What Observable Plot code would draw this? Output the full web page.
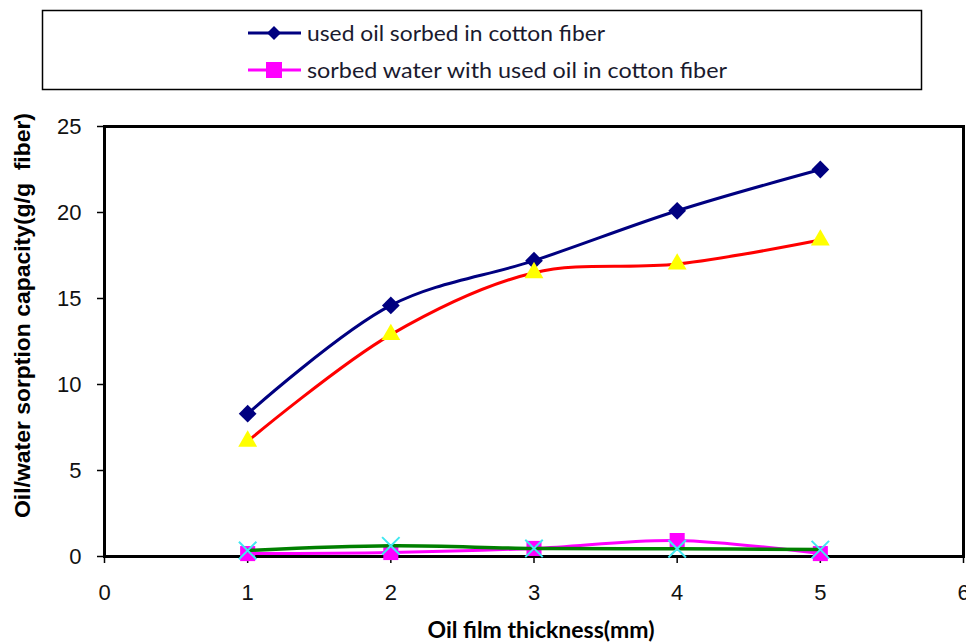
<!DOCTYPE html>
<html>
<head>
<meta charset="utf-8">
<script src="https://cdn.jsdelivr.net/npm/d3@7"></script>
<script src="https://cdn.jsdelivr.net/npm/@observablehq/plot@0.6"></script>
<style>
  body { margin: 0; background: #fff; }
  #wrap { position: relative; width: 966px; height: 643px; }
  #legend { position: absolute; left: 0; top: 0; }
  #chart { position: absolute; left: 0; top: 0; }
</style>
</head>
<body>
<div id="wrap">
  <div id="chart"></div>
  <div id="legend"></div>
</div>
<script>
const thickness = [1, 2, 3, 4, 5];
const usedOilSorbed = [8.3, 14.6, 17.2, 20.1, 22.5];
const sorbedWaterWithOil = [0.17, 0.23, 0.47, 0.93, 0.17];
const series3 = [6.7, 12.9, 16.5, 17.0, 18.4];
const series4 = [0.35, 0.62, 0.47, 0.45, 0.40];
const xTicks = [0, 1, 2, 3, 4, 5, 6];
const yTicks = [0, 5, 10, 15, 20, 25];
const legendLabels = ["used oil sorbed in cotton fiber", "sorbed water with used  oil in cotton fiber"];
const xTitle = "Oil film thickness(mm)";
const yTitle = "Oil/water sorption capacity(g/g  fiber)";

const rows = (ys) => thickness.map((x, i) => ({x, y: ys[i]}));
const s1 = rows(usedOilSorbed), s2 = rows(sorbedWaterWithOil), s3 = rows(series3), s4 = rows(series4);

const chart = Plot.plot({
  width: 966,
  height: 643,
  marginLeft: 104,
  marginRight: 3,
  marginTop: 126,
  marginBottom: 87,
  style: {fontFamily: "'Liberation Sans', Arial, sans-serif", background: "#fff", color: "#000", overflow: "visible"},
  x: {domain: [0, 6]},
  y: {domain: [0, 25]},
  marks: [
    Plot.axisY({ticks: yTicks, tickSize: 7, tickPadding: 16, fontSize: 22, strokeWidth: 1.5, label: null, tickFormat: d => d, fill: "#111"}),
    Plot.axisX({ticks: xTicks, tickSize: 7, tickPadding: 21, fontSize: 22, strokeWidth: 1.5, label: null, tickFormat: d => d, fill: "#111"}),
    Plot.frame({stroke: "#000", strokeWidth: 3}),
    Plot.text([yTitle], {frameAnchor: "left", textAnchor: "middle", dx: -81, dy: -26, rotate: -90, fontSize: 21.5, fontWeight: "bold", fill: "#000"}),
    Plot.text([xTitle], {frameAnchor: "bottom", textAnchor: "middle", dx: 7, dy: 81, fontSize: 22, fontWeight: "bold", fill: "#000",
                         fontFamily: "Lato, 'Liberation Sans', sans-serif"}),
    Plot.line(s1, {x: "x", y: "y", stroke: "#000080", strokeWidth: 3, curve: "catmull-rom"}),
    Plot.dot(s1, {x: "x", y: "y", symbol: "diamond2", r: 8, fill: "#000080", stroke: "none"}),
    Plot.line(s2, {x: "x", y: "y", stroke: "#ff00ff", strokeWidth: 3, curve: "catmull-rom"}),
    Plot.dot(s2, {x: "x", y: "y", symbol: "square", r: 8.5, fill: "#ff00ff", stroke: "none"}),
    Plot.line(s3, {x: "x", y: "y", stroke: "#ff0000", strokeWidth: 3, curve: "catmull-rom"}),
    Plot.dot(s3, {x: "x", y: "y", symbol: "triangle", r: 7, fill: "#ffff00", stroke: "none"}),
    Plot.line(s4, {x: "x", y: "y", stroke: "#008000", strokeWidth: 3.5, curve: "catmull-rom"}),
    Plot.dot(s4, {x: "x", y: "y", symbol: "times", r: 8, stroke: "#40e8f0", strokeWidth: 2})
  ]
});
document.getElementById("chart").appendChild(chart);

d3.select(chart).selectAll("text")
  .filter(function() { return this.textContent === xTitle; })
  .attr("textLength", 227).attr("lengthAdjust", "spacingAndGlyphs");
d3.select(chart).selectAll("text")
  .filter(function() { return this.textContent === yTitle; })
  .attr("textLength", 405).attr("lengthAdjust", "spacingAndGlyphs");

// Legend (drawn above the plot area)
const lg = d3.select("#legend").append("svg").attr("width", 966).attr("height", 100);
lg.append("rect").attr("x", 42.5).attr("y", 10.5).attr("width", 879).attr("height", 79)
  .attr("fill", "#fff").attr("stroke", "#000").attr("stroke-width", 1.5);
const legendItems = [
  {label: legendLabels[0], color: "#000080", y: 33, len: 298, marker: "diamond"},
  {label: legendLabels[1], color: "#ff00ff", y: 70, len: 420, marker: "square"}
];
legendItems.forEach(it => {
  lg.append("line").attr("x1", 248).attr("x2", 301).attr("y1", it.y).attr("y2", it.y)
    .attr("stroke", it.color).attr("stroke-width", 3);
  if (it.marker === "diamond") {
    lg.append("path").attr("d", `M274,${it.y - 7} L281,${it.y} L274,${it.y + 7} L267,${it.y} Z`).attr("fill", it.color);
  } else {
    lg.append("rect").attr("x", 266).attr("y", it.y - 8).attr("width", 16).attr("height", 16).attr("fill", it.color);
  }
  lg.append("text").attr("x", 307).attr("y", it.y + 7.5)
    .attr("font-family", "Lato, 'Liberation Sans', sans-serif").attr("font-size", 21)
    .attr("fill", "#1a1a2e")
    .attr("textLength", it.len).attr("lengthAdjust", "spacingAndGlyphs")
    .text(it.label);
});
</script>
</body>
</html>
